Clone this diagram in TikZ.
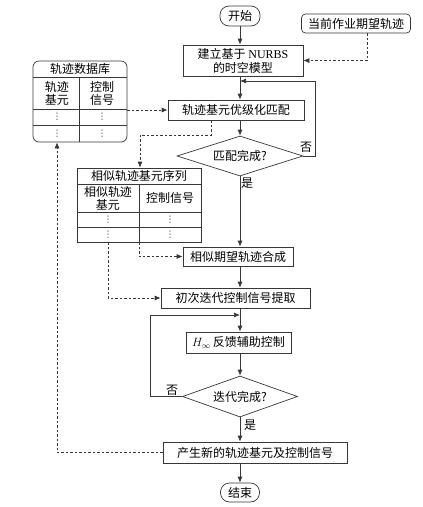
\documentclass[tikz,border=0pt]{standalone}
\usepackage{fontspec}
\setmainfont{Liberation Serif}
\newfontfamily\cjk{Noto Sans CJK SC}
\newfontfamily\sym{DejaVu Sans}
\usepackage{tikz}
\usetikzlibrary{shapes.geometric,arrows.meta,calc,positioning}
\definecolor{myline}{RGB}{55,55,55}
\tikzstyle{process}=[draw=myline,rectangle,line width=0.7pt,minimum height=20pt,inner sep=2pt,font=\cjk\fontsize{12}{14}\selectfont,align=center]
\tikzstyle{terminal}=[process,rounded corners=9pt]
\tikzstyle{decision}=[draw=myline,diamond,aspect=3,line width=0.7pt,inner sep=0pt,font=\cjk\fontsize{12}{14}\selectfont]
\tikzstyle{celltext}=[inner sep=0pt,font=\cjk\fontsize{12}{13}\selectfont,align=center]
\tikzstyle{celldots}=[inner sep=0pt,font=\sym\fontsize{9}{9}\selectfont,text=myline]
\tikzstyle{note}=[inner sep=1pt,font=\cjk\fontsize{12}{14}\selectfont]
\tikzstyle{arr}=[draw=myline,line width=0.7pt,-{Latex[length=6pt,width=5pt]}]
\tikzstyle{darr}=[arr,dash pattern=on 2.5pt off 2pt]

\begin{document}
\begin{tikzpicture}[x=1pt,y=-1pt]
\useasboundingbox (0,0) rectangle (423,507);
% main flow
\node [terminal,minimum width=40pt] (start) at (240,16) {开始};
\node [terminal,rounded corners=4pt,minimum width=109pt,minimum height=19pt] (goal) at (356,23.5) {当前作业期望轨迹};
\node [process,minimum width=120pt,minimum height=31pt] (nurbs) at (243,60.5) {建立基于 {\rmfamily NURBS}\\的时空模型};
\node [process,minimum width=136pt] (match) at (236,110) {轨迹基元优级化匹配};
\node [decision,minimum width=126pt,minimum height=40pt] (dia1) at (240,156) {匹配完成?};
\node [process,minimum width=110pt,minimum height=19pt] (synth) at (238,256.5) {相似期望轨迹合成};
\node [process,minimum width=149pt] (init) at (235.5,298) {初次迭代控制信号提取};
\node [process,minimum width=105pt,minimum height=21pt] (hinf) at (238.5,342.5) {$H_\infty$\,反馈辅助控制};
\node [decision,minimum width=115pt,minimum height=41pt] (dia2) at (240,396.5) {迭代完成?};
\node [process,minimum width=184pt,minimum height=21pt] (final) at (255,452.5) {产生新的轨迹基元及控制信号};
\node [terminal,minimum width=39pt,minimum height=19pt] (end) at (240,492.5) {结束};

% trajectory database
\node [draw=myline,line width=0.7pt,rounded corners=6pt,minimum width=94pt,minimum height=81pt,inner sep=0pt] (db) at (80,101.5) {};
\draw [myline,line width=0.7pt] (33,77) -- (127,77) (79,77) -- (79,142)
  (33,109) -- (127,109) (33,125) -- (127,125);
\node [celltext] (dbtitle) at (80,69) {轨迹数据库};
\node [celltext] (dbkey) at (57,93) {轨迹\\基元};
\node [celltext] (dbsig) at (102,93) {控制\\信号};
\node [celldots] (dbk1) at (57,117) {⋮};
\node [celldots] (dbs1) at (102,117) {⋮};
\node [celldots] (dbk2) at (57,133.5) {⋮};
\node [celldots] (dbs2) at (102,133.5) {⋮};

% similar sequence
\node [draw=myline,line width=0.7pt,minimum width=124pt,minimum height=74pt,inner sep=0pt] (sim) at (139,205) {};
\draw [myline,line width=0.7pt] (77,184) -- (201,184) (139,184) -- (139,242)
  (77,212) -- (201,212) (77,227) -- (201,227);
\node [celltext] (simtitle) at (139,176) {相似轨迹基元序列};
\node [celltext] (simkey) at (108,198) {相似轨迹\\基元};
\node [celltext] (simsig) at (170,198) {控制信号};
\node [celldots] (simk1) at (108,219.5) {⋮};
\node [celldots] (sims1) at (170,219.5) {⋮};
\node [celldots] (simk2) at (108,234.5) {⋮};
\node [celldots] (sims2) at (170,234.5) {⋮};

% helper points
\coordinate (axis) at (240,0);
\coordinate (l1a) at (315,81);
\coordinate (l1b) at (240,81);
\coordinate (l2a) at (150,315);
\coordinate (l2b) at (240,315);
\coordinate (d1) at (140,135);

% solid arrows
\draw [arr] (start.south) -- (axis |- nurbs.north);
\draw [arr] (axis |- nurbs.south) -- (axis |- match.north);
\draw [arr] (axis |- match.south) -- (dia1.north);
\draw [arr] (dia1.east) -| (l1a) -- (l1b);
\draw [arr] (dia1.south) -- (axis |- synth.north);
\draw [arr] (axis |- synth.south) -- (axis |- init.north);
\draw [arr] (axis |- init.south) -- (axis |- hinf.north);
\draw [arr] (dia2.west) -| (l2a) -- (l2b);
\draw [arr] (axis |- hinf.south) -- (dia2.north);
\draw [arr] (dia2.south) -- (axis |- final.north);
\draw [arr] (axis |- final.south) -- (end.north);

% dashed arrows
\draw [darr] ([xshift=11pt]goal.south) |- (nurbs.east);
\draw [darr] (db.east |- match.west) -- (match.west);
\draw [darr] ([xshift=-25pt]match.south) |- (d1) -- (d1 |- sim.north);
\draw [darr] (sim.south) |- (synth.west);
\draw [darr] ([xshift=-31pt]sim.south) |- (init.west);
\draw [darr] (final.west) -| ([xshift=-23pt]db.south);

% labels
\node [note] (no1) at (306,147) {否};
\node [note] (yes1) at (247,183) {是};
\node [note] (no2) at (172,390) {否};
\node [note] (yes2) at (250,425) {是};
\end{tikzpicture}
\end{document}
